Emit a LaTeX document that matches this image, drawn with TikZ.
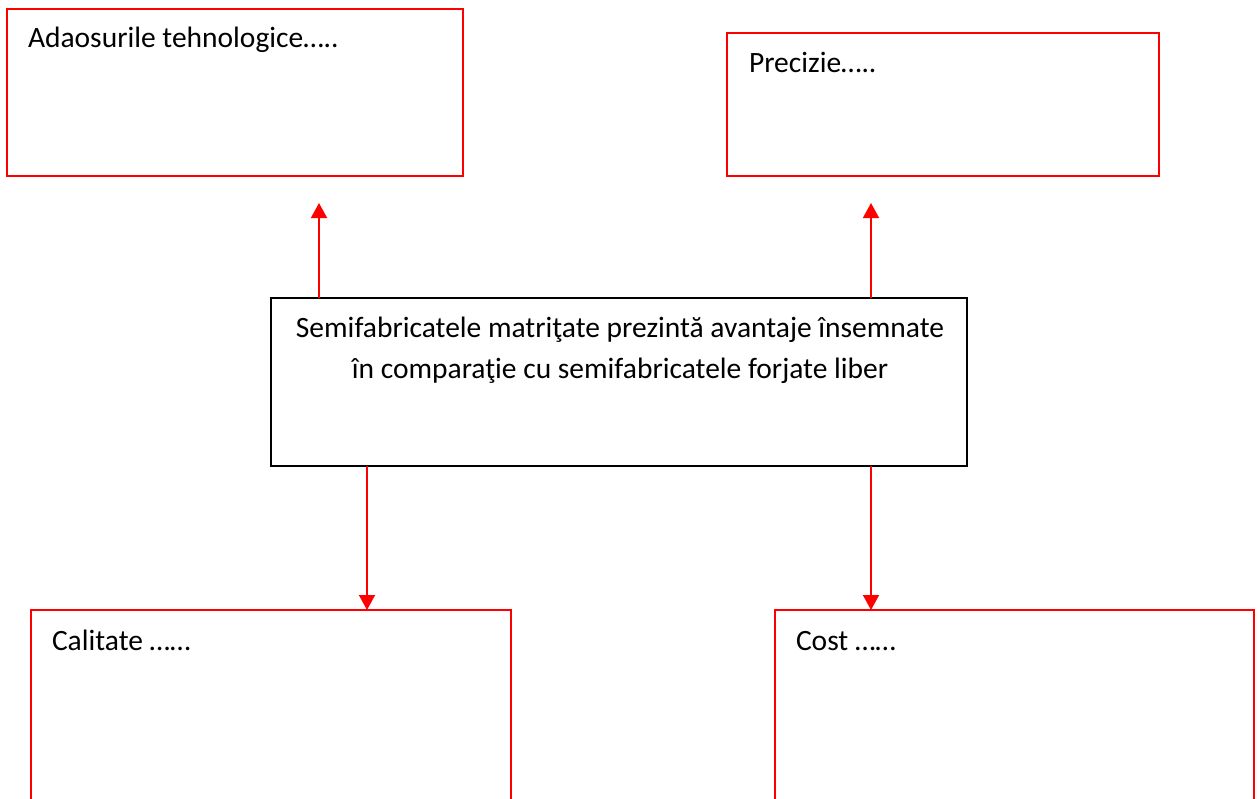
\documentclass[tikz,border=0pt]{standalone}
\usepackage{fontspec}
\setmainfont{Carlito}
\usetikzlibrary{arrows.meta}
\begin{document}
\begin{tikzpicture}[x=1pt,y=-1pt,
  redbox/.style={draw=red,line width=2.2pt,inner sep=0pt,outer sep=0pt,anchor=north west},
  blackbox/.style={draw=black,line width=1.8pt,inner sep=0pt,outer sep=0pt,anchor=north west},
  txt/.style={inner sep=0pt,outer sep=0pt,font=\fontsize{29.5}{36}\selectfont},
  link/.style={draw=red,line width=1.6pt,-{Triangle[width=16pt,length=15pt]}}]
\useasboundingbox (0,0) rectangle (1258,798);
\clip (0,0) rectangle (1258,798);

% outer boxes
\node[redbox,minimum width=456,minimum height=167] (adaos) at (7,9) {};
\node[redbox,minimum width=432,minimum height=143] (prec) at (727,33) {};
\node[redbox,minimum width=480,minimum height=260] (calit) at (31,610) {};
\node[redbox,minimum width=479,minimum height=260] (cost) at (775,610) {};

% central box
\node[blackbox,minimum width=696,minimum height=168] (mid) at (271,298) {};

% texts
\node[txt,anchor=base west] (adaosT) at (28,47) {Adaosurile tehnologice…..};
\node[txt,anchor=base west] (precT) at (749,72) {Precizie…..};
\node[txt,anchor=base west] (calitT) at (52,650) {Calitate ……};
\node[txt,anchor=base west] (costT) at (796,650) {Cost ……};
\node[txt,anchor=base] (midA) at (620,337) {Semifabricatele matriţate prezintă avantaje însemnate};
\node[txt,anchor=base] (midB) at (620,378) {în comparaţie cu semifabricatele forjate liber};

% arrow ends above the central box
\coordinate (upL) at (319,203);
\coordinate (upR) at (871,203);

% connectors
\draw[link] (mid.north -| upL) -- (upL);
\draw[link] (mid.north -| upR) -- (upR);
\draw[link] (mid.south -| 367,0) -- (calit.north -| 367,0);
\draw[link] (mid.south -| upR) -- (cost.north -| upR);
\end{tikzpicture}
\end{document}
